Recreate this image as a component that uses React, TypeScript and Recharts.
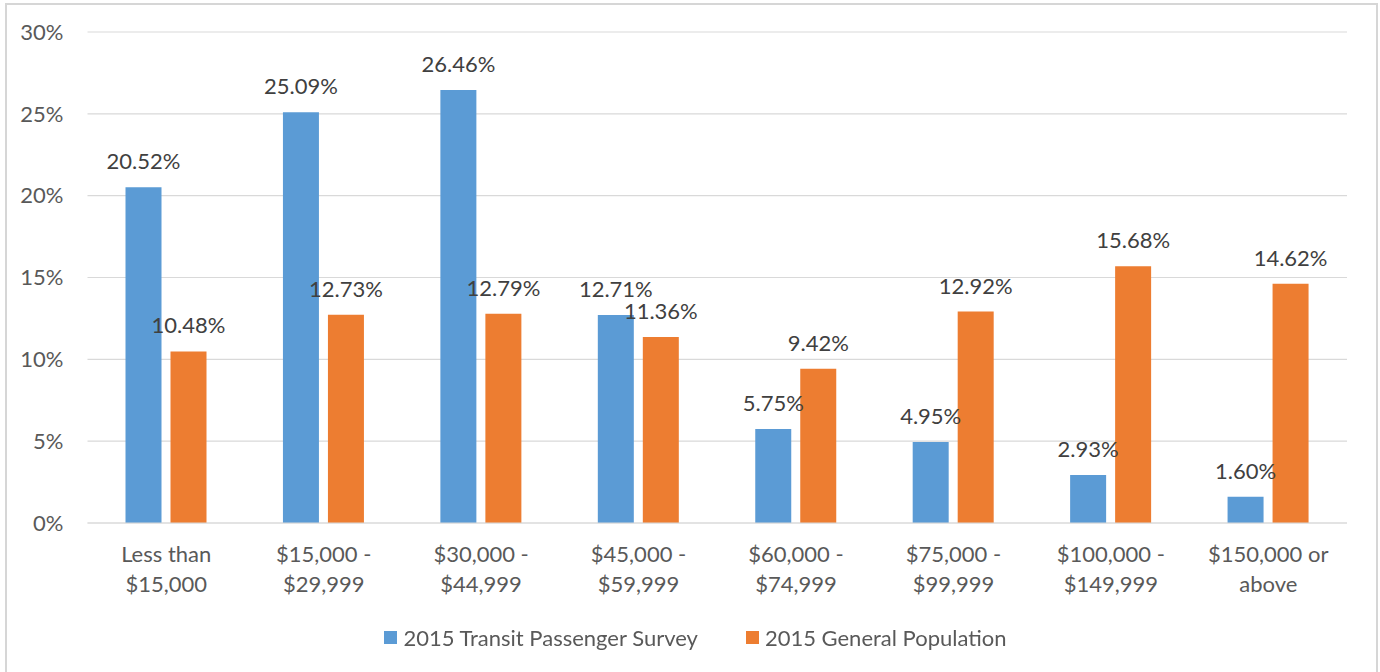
import React from 'react';
import { BarChart, Bar, XAxis, YAxis, CartesianGrid, Legend, LabelList } from 'recharts';

const categories = [
    'Less than\n$15,000',
    '$15,000 -\n$29,999',
    '$30,000 -\n$44,999',
    '$45,000 -\n$59,999',
    '$60,000 -\n$74,999',
    '$75,000 -\n$99,999',
    '$100,000 -\n$149,999',
    '$150,000 or\nabove',
];
const transitSurvey = [20.52, 25.09, 26.46, 12.71, 5.75, 4.95, 2.93, 1.6];
const generalPopulation = [10.48, 12.73, 12.79, 11.36, 9.42, 12.92, 15.68, 14.62];
const yTicks = [0, 5, 10, 15, 20, 25, 30];

const SERIES = [
    { key: 'transit', name: '2015 Transit Passenger Survey', color: '#5B9BD5' },
    { key: 'general', name: '2015 General Population', color: '#ED7D31' },
];

const FONT = 'Lato, "Open Sans", sans-serif';
const FONT_SIZE = 22;
const AXIS_TEXT = '#595959';
const LABEL_TEXT = '#404040';
const GRID = '#D9D9D9';

const data = categories.map((name, i) => ({
    name,
    transit: transitSurvey[i],
    general: generalPopulation[i],
}));

const CategoryTick = ({ x, y, payload }: any) => {
    const lines = String(payload.value).split('\n');
    return (
        <text x={x} y={y} textAnchor="middle" fill={AXIS_TEXT} fontSize={FONT_SIZE} fontFamily={FONT}>
            {lines.map((line, i) => (
                <tspan key={i} x={x} dy={i === 0 ? 31 : 30}>{line}</tspan>
            ))}
        </text>
    );
};

const LegendContent = () => (
    <div style={{ height: 56, paddingBottom: 16, paddingLeft: 38, boxSizing: 'border-box', display: 'flex', justifyContent: 'center', alignItems: 'center', gap: 48, fontFamily: FONT, fontSize: FONT_SIZE, color: AXIS_TEXT }}>
        {SERIES.map(s => (
            <div key={s.key} style={{ display: 'flex', alignItems: 'center' }}>
                <span style={{ width: 13, height: 13, background: s.color, display: 'inline-block', marginRight: 6 }} />
                <span>{s.name}</span>
            </div>
        ))}
    </div>
);

export default function App() {
    // frame around the chart, like the exported picture
    return (
        <div style={{ position: 'fixed', left: 5, top: 3, width: 1373, height: 669, boxSizing: 'border-box', borderTop: '2px solid #D6D6D6', borderLeft: '2px solid #D6D6D6', borderRight: '2px solid #D6D6D6', background: '#fff' }}>
            <BarChart
                width={1372}
                height={668}
                data={data}
                margin={{ top: 27, right: 31, left: 0, bottom: 0 }}
                barSize={36}
                barGap={9}
                style={{ marginLeft: -1 }}
            >
                <CartesianGrid vertical={false} stroke={GRID} strokeWidth={1.2} />
                <XAxis
                    dataKey="name"
                    interval={0}
                    tickLine={false}
                    axisLine={{ stroke: GRID, strokeWidth: 1.2 }}
                    height={94}
                    tick={<CategoryTick />}
                />
                <YAxis
                    domain={[0, 30]}
                    ticks={yTicks}
                    width={81.5}
                    axisLine={false}
                    tickLine={false}
                    tickMargin={18}
                    tickFormatter={(v: number) => `${v}%`}
                    tick={{ fill: AXIS_TEXT, fontSize: FONT_SIZE, fontFamily: FONT }}
                />
                <Legend verticalAlign="bottom" content={<LegendContent />} />
                {SERIES.map(s => (
                    <Bar key={s.key} dataKey={s.key} name={s.name} fill={s.color} isAnimationActive={false}>
                        <LabelList
                            dataKey={s.key}
                            position="top"
                            offset={18}
                            formatter={(v: any) => `${Number(v).toFixed(2)}%`}
                            fill={LABEL_TEXT}
                            fontSize={FONT_SIZE}
                            fontFamily={FONT}
                        />
                    </Bar>
                ))}
            </BarChart>
        </div>
    );
}
